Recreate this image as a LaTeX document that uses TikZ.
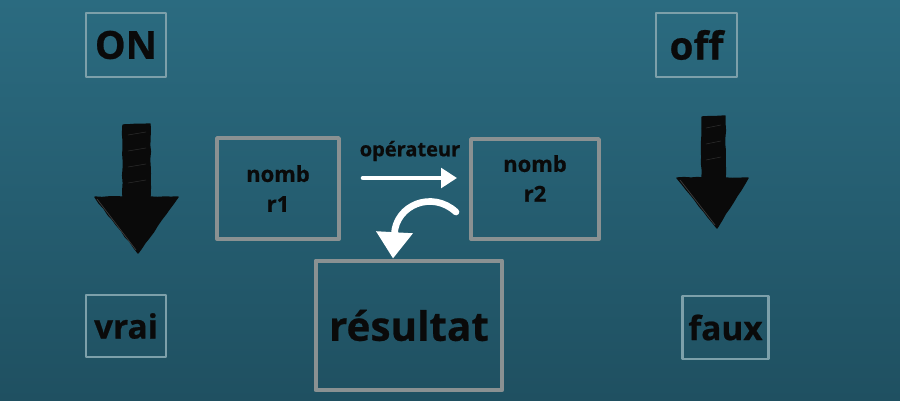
\documentclass[tikz,border=0pt]{standalone}
\usepackage{fontspec}
\setmainfont{Open Sans}[BoldFeatures={FakeBold=0.6}]
\usetikzlibrary{arrows.meta,decorations.pathmorphing}
\definecolor{fondhaut}{RGB}{43,107,128}
\definecolor{fondbas}{RGB}{31,80,97}
\definecolor{cadre}{RGB}{138,145,146}
\definecolor{cadreclair}{RGB}{125,160,170}
\definecolor{encre}{RGB}{10,10,10}
\tikzset{
  petit/.style={draw=cadreclair, line width=1.2pt, text=encre, font=\bfseries},
  grand/.style={draw=cadre, line width=2.2pt, text=encre, font=\bfseries, align=center},
  fleche/.style={draw=white, line width=2.6pt, -{Triangle[length=9pt,width=11pt]}},
  croquis/.style={fill=encre, draw=encre, line width=0.8pt, decorate, decoration={random steps, segment length=4pt, amplitude=0.3pt}}
}
\begin{document}
\begin{tikzpicture}[x=0.02cm, y=-0.02cm, line join=round, line cap=round]
	\shade[top color=fondhaut, bottom color=fondbas] (0,0) rectangle (900,400);
	\useasboundingbox (0,0) rectangle (900,400);
	% etats
	\node[petit, minimum width=1.6cm, minimum height=1.28cm, font=\bfseries\fontsize{22}{24}\selectfont] (on) at (126,45) {ON};
	\node[petit, minimum width=1.62cm, minimum height=1.28cm, font=\bfseries\fontsize{22}{24}\selectfont] (off) at (696.5,45) {off};
	\node[petit, minimum width=1.6cm, minimum height=1.24cm, font=\bfseries\fontsize{19}{22}\selectfont] (vrai) at (126,326) {vrai};
	\node[petit, minimum width=1.62cm, minimum height=1.26cm, font=\bfseries\fontsize{19}{22}\selectfont] (faux) at (725.5,327.5) {faux};
	% fleches dessinees
	\path[croquis] (123,125)--(150,124)--(150,197)--(178,197)--(138,253)--(95,197)--(123,197)--cycle;
	\path[croquis] (702,117)--(725,116)--(725,178)--(748,178)--(717,228)--(677,178)--(702,178)--cycle;
	\foreach \h in {135,151,...,190} \draw[encre!60!white, line width=0.3pt, opacity=0.35] (128,\h)--(146,\h-3);
	\foreach \h in {128,144,...,172} \draw[encre!60!white, line width=0.3pt, opacity=0.35] (706,\h)--(721,\h-3);
	\draw[encre!50!white, line width=0.4pt, opacity=0.4] (97,199)--(136,250) (680,180)--(715,225);
	% operation
	\node[grand, minimum width=2.44cm, minimum height=2.02cm, font=\bfseries\fontsize{12.5}{17}\selectfont] (r1) at (278,188.5) {nomb\\r1};
	\node[grand, minimum width=2.56cm, minimum height=2.0cm, text depth=12pt, font=\bfseries\fontsize{12.5}{17}\selectfont] (r2) at (535,189) {nomb\\r2};
	\node[grand, line width=2.8pt, minimum width=3.72cm, minimum height=2.58cm, font=\bfseries\fontsize{23}{26}\selectfont] (res) at (409,325.5) {résultat};
	\node[text=encre, font=\bfseries\fontsize{11.4}{13}\selectfont] (op) at (410,151) {opérateur};
	\coordinate (a) at (363,178);
	\coordinate (b) at (457,178);
	\coordinate (c) at (456,212);
	\draw[fleche] (a) -- (b);
	\draw[fleche, line width=3.8pt, -{Triangle[length=15pt,width=20pt]}] (c) .. controls (432,190) and (396,205) .. (res.north -| 393,0);
\end{tikzpicture}
\end{document}
